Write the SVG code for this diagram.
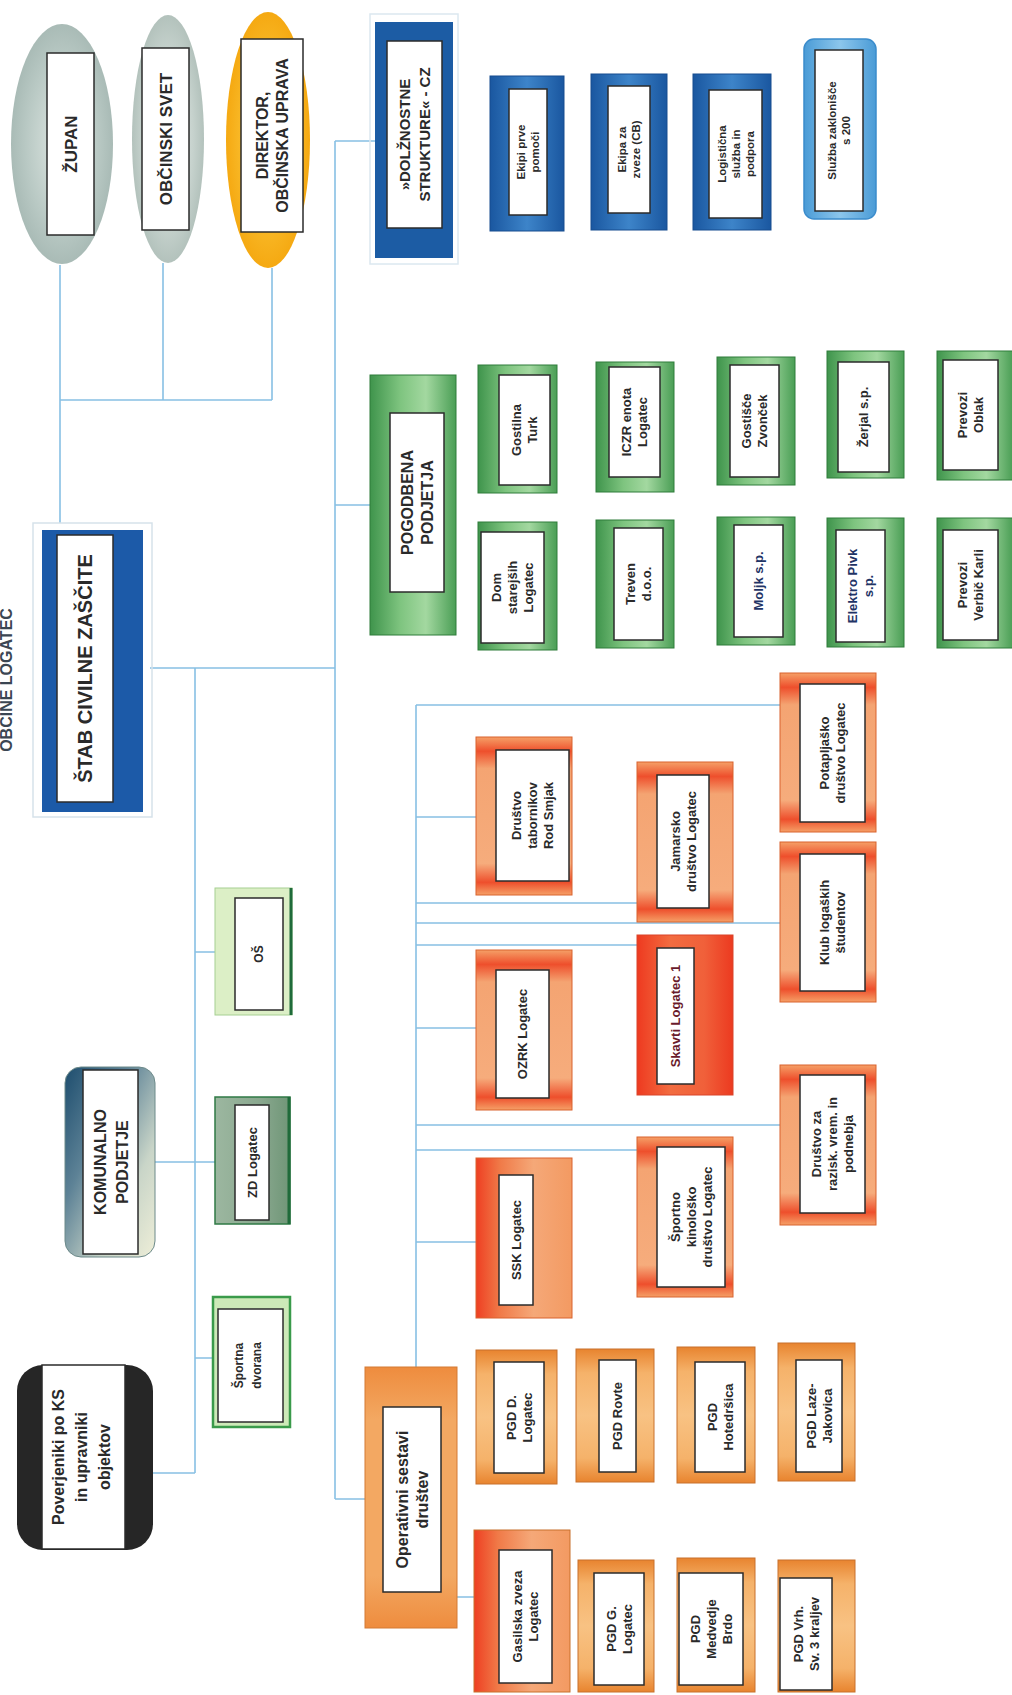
<svg xmlns="http://www.w3.org/2000/svg" width="1012" height="1695" viewBox="0 0 1012 1695">
<defs>
<style>
.ln{stroke:#88c0e4;stroke-width:1.6;fill:none}
.in{fill:#fff;stroke:#2b2b2b;stroke-width:1.5}
.t{font-family:"Liberation Sans",Arial,sans-serif;font-weight:bold;fill:#2a2a2a;text-anchor:middle}
.f11{font-size:11.5px}.f12{font-size:12px}.f13{font-size:13px}.f15{font-size:15px}.f16{font-size:16px}.f17{font-size:17px}.f20{font-size:20px}
.blue{fill:url(#gBlue);stroke:#174d8f;stroke-width:1}
.grn{fill:url(#gGreen);stroke:#2f7d3a;stroke-width:1}
.orA{fill:url(#gOrgA);stroke:#d9622e;stroke-width:1}
.orB{fill:url(#gOrgB);stroke:#d9622e;stroke-width:1}
.orC{fill:url(#gOrgC);stroke:#d9452a;stroke-width:1}
.tan{fill:url(#gTan);stroke:#c8702c;stroke-width:1}
.navy{fill:#1f3466}
</style>
<radialGradient id="gGray" cx="0.5" cy="0.5" r="0.5"><stop offset="0" stop-color="#dfe7e3"/><stop offset="0.7" stop-color="#b9c9c4"/><stop offset="1" stop-color="#a9bbb6"/></radialGradient>
<radialGradient id="gGray2" cx="0.5" cy="0.5" r="0.5"><stop offset="0" stop-color="#e6ece9"/><stop offset="0.7" stop-color="#c6d2cd"/><stop offset="1" stop-color="#b3c2bc"/></radialGradient>
<radialGradient id="gGold" cx="0.5" cy="0.5" r="0.5"><stop offset="0" stop-color="#fde08a"/><stop offset="0.6" stop-color="#f9bb2a"/><stop offset="1" stop-color="#f5a912"/></radialGradient>
<linearGradient id="gBlue" x1="0" y1="0" x2="1" y2="0"><stop offset="0" stop-color="#1a57a0"/><stop offset="0.5" stop-color="#3d84c9"/><stop offset="1" stop-color="#1a57a0"/></linearGradient>
<linearGradient id="gBlueL" x1="0" y1="0" x2="1" y2="0"><stop offset="0" stop-color="#4a9bd6"/><stop offset="0.5" stop-color="#8cc6ec"/><stop offset="1" stop-color="#4a9bd6"/></linearGradient>
<linearGradient id="gGreen" x1="0" y1="0" x2="1" y2="0"><stop offset="0" stop-color="#3f944c"/><stop offset="0.35" stop-color="#7ec47f"/><stop offset="0.65" stop-color="#a3d8a0"/><stop offset="1" stop-color="#4a9e55"/></linearGradient>
<linearGradient id="gOrgA" x1="0" y1="0" x2="0" y2="1"><stop offset="0" stop-color="#f5a067"/><stop offset="0.09" stop-color="#ee4f2c"/><stop offset="0.2" stop-color="#f4a472"/><stop offset="0.8" stop-color="#f6ac7c"/><stop offset="0.92" stop-color="#ee4f2c"/><stop offset="1" stop-color="#f5a067"/></linearGradient>
<linearGradient id="gOrgB" x1="0" y1="0" x2="1" y2="0"><stop offset="0" stop-color="#ee3f22"/><stop offset="0.25" stop-color="#f07a48"/><stop offset="0.6" stop-color="#f5a878"/><stop offset="1" stop-color="#f39a62"/></linearGradient>
<linearGradient id="gOrgC" x1="0" y1="0" x2="1" y2="0"><stop offset="0" stop-color="#ee3a20"/><stop offset="0.35" stop-color="#f26c40"/><stop offset="0.7" stop-color="#f0603a"/><stop offset="1" stop-color="#ec3a20"/></linearGradient>
<linearGradient id="gTan" x1="0" y1="0" x2="0" y2="1"><stop offset="0" stop-color="#e8842f"/><stop offset="0.18" stop-color="#f5b26a"/><stop offset="0.5" stop-color="#f8c283"/><stop offset="0.82" stop-color="#f5b26a"/><stop offset="1" stop-color="#e8842f"/></linearGradient>
<linearGradient id="gOper" x1="0" y1="0" x2="0" y2="1"><stop offset="0" stop-color="#ee8c3e"/><stop offset="0.2" stop-color="#f3a862"/><stop offset="0.8" stop-color="#f3a862"/><stop offset="1" stop-color="#ee8c3e"/></linearGradient>
<linearGradient id="gKom" x1="0" y1="0" x2="1" y2="1"><stop offset="0" stop-color="#1d4d6e"/><stop offset="0.35" stop-color="#5d8296"/><stop offset="0.7" stop-color="#c9d5c8"/><stop offset="1" stop-color="#eeeed8"/></linearGradient>
<linearGradient id="gZD" x1="0" y1="0" x2="1" y2="0"><stop offset="0" stop-color="#9cb7a0"/><stop offset="0.6" stop-color="#8aa88f"/><stop offset="1" stop-color="#6f9677"/></linearGradient>
</defs>
<rect width="1012" height="1695" fill="#fff"/>

<g id="connectors">
<path class="ln" d="M60,265V523M163,263V400M272,268V400M60,400H272"/>
<path class="ln" d="M335,141V1499M335,141H375M335,505H370M150,668H335M335,1499H365M457,1597H474"/>
<path class="ln" d="M195,668V1473M195,952H215M155,1162H215M195,1358H213M153,1473H195"/>
<path class="ln" d="M416,705V1367M416,705H780M416,817H476M416,903H637M416,923H780M416,945H637M416,1028H476M416,1125H780M416,1150H637M416,1242H476"/>
</g>

<text class="t f16" transform="translate(12 680) rotate(-90)" style="fill:#3b4652">OBČINE LOGATEC</text>

<g id="zupan"><ellipse cx="62" cy="144" rx="51" ry="120" fill="url(#gGray)"/><rect class="in" x="47" y="53" width="47" height="182"/>
<text class="t f17" transform="translate(70.5 144) rotate(-90)"><tspan x="0" y="6.1">ŽUPAN</tspan></text></g>
<g id="svet"><ellipse cx="168" cy="139" rx="36" ry="124" fill="url(#gGray2)"/><rect class="in" x="142" y="48" width="47" height="182"/>
<text class="t f17" transform="translate(165.5 139) rotate(-90)"><tspan x="0" y="6.1">OBČINSKI SVET</tspan></text></g>
<g id="direktor"><ellipse cx="268" cy="140" rx="42" ry="128" fill="url(#gGold)"/><rect class="in" x="241" y="39" width="62" height="193"/>
<text class="t f16" transform="translate(272 135.5) rotate(-90)"><tspan x="0" y="-4.2">DIREKTOR,</tspan><tspan x="0" y="15.8">OBČINSKA UPRAVA</tspan></text></g>

<g id="dolznostne"><rect x="370" y="14" width="88" height="250" fill="none" stroke="#dbe8f0" stroke-width="1.5"/><rect x="375" y="22" width="78" height="236" fill="#1c5ca4"/><rect class="in" x="387" y="41" width="55" height="187"/>
<text class="t f15" transform="translate(414.5 134.5) rotate(-90)"><tspan x="0" y="-4.6">»DOLŽNOSTNE</tspan><tspan x="0" y="15.4">STRUKTURE« - CZ</tspan></text></g>

<g id="ekipi_prve"><rect class="blue" x="490" y="76" width="74" height="155"/><rect class="in" x="509" y="89" width="38" height="126"/>
<text class="t f11" transform="translate(528 152) rotate(-90)"><tspan x="0" y="-2.9">Ekipi prve</tspan><tspan x="0" y="11.1">pomoči</tspan></text></g>
<g id="ekipa_zveze"><rect class="blue" x="591" y="74" width="76" height="156"/><rect class="in" x="608" y="86" width="42" height="127"/>
<text class="t f11" transform="translate(629 149.5) rotate(-90)"><tspan x="0" y="-2.9">Ekipa za</tspan><tspan x="0" y="11.1">zveze (CB)</tspan></text></g>
<g id="logistika"><rect class="blue" x="693" y="74" width="78" height="156"/><rect class="in" x="709" y="90" width="53" height="128"/>
<text class="t f11" transform="translate(735.5 154) rotate(-90)"><tspan x="0" y="-9.9">Logistična</tspan><tspan x="0" y="4.1">služba in</tspan><tspan x="0" y="18.1">podpora</tspan></text></g>
<g id="sluzba"><rect x="804" y="39" width="72" height="180" rx="10" fill="url(#gBlueL)" stroke="#3b8ccc" stroke-width="1.5"/><rect class="in" x="815" y="50" width="48" height="161"/>
<text class="t f11" transform="translate(839 130.5) rotate(-90)"><tspan x="0" y="-2.9">Služba zaklonišče</tspan><tspan x="0" y="11.1">s 200</tspan></text></g>

<g id="stab"><rect x="33" y="523" width="119" height="294" fill="none" stroke="#d6e2ea" stroke-width="1.5"/><rect x="42" y="530" width="101" height="282" fill="#1c5aa8"/><rect class="in" x="57" y="535" width="56" height="267"/>
<text class="t f20" transform="translate(85 668.5) rotate(-90)"><tspan x="0" y="7.2">ŠTAB CIVILNE ZAŠČITE</tspan></text></g>

<g id="pogodbena"><rect class="grn" x="370" y="375" width="86" height="260"/><rect class="in" x="390" y="413" width="54" height="179"/>
<text class="t f16" transform="translate(417 502.5) rotate(-90)"><tspan x="0" y="-4.2">POGODBENA</tspan><tspan x="0" y="15.8">PODJETJA</tspan></text></g>
<g id="gostilna_turk"><rect class="grn" x="478" y="365" width="79" height="128"/><rect class="in" x="499" y="375" width="51" height="110"/>
<text class="t f13" transform="translate(524.5 430) rotate(-90)"><tspan x="0" y="-3.3">Gostilna</tspan><tspan x="0" y="12.7">Turk</tspan></text></g>
<g id="dom_starejsih"><rect class="grn" x="478" y="522" width="79" height="128"/><rect class="in" x="481" y="532" width="63" height="111"/>
<text class="t f13" transform="translate(512.5 587.5) rotate(-90)"><tspan x="0" y="-11.3">Dom</tspan><tspan x="0" y="4.7">starejših</tspan><tspan x="0" y="20.7">Logatec</tspan></text></g>
<g id="iczr"><rect class="grn" x="596" y="362" width="78" height="130"/><rect class="in" x="609" y="367" width="51" height="110"/>
<text class="t f13" transform="translate(634.5 422) rotate(-90)"><tspan x="0" y="-3.3">ICZR enota</tspan><tspan x="0" y="12.7">Logatec</tspan></text></g>
<g id="treven"><rect class="grn" x="596" y="520" width="78" height="128"/><rect class="in" x="614" y="528" width="49" height="112"/>
<text class="t f13" transform="translate(638.5 584) rotate(-90)"><tspan x="0" y="-3.3">Treven</tspan><tspan x="0" y="12.7">d.o.o.</tspan></text></g>
<g id="gostisce"><rect class="grn" x="717" y="357" width="78" height="128"/><rect class="in" x="730" y="365" width="49" height="112"/>
<text class="t f13" transform="translate(754.5 421) rotate(-90)"><tspan x="0" y="-3.3">Gostišče</tspan><tspan x="0" y="12.7">Zvonček</tspan></text></g>
<g id="moljk"><rect class="grn" x="717" y="517" width="78" height="128"/><rect class="in" x="734" y="525" width="49" height="112"/>
<text class="t f13 navy" transform="translate(758.5 581) rotate(-90)"><tspan x="0" y="4.7">Moljk s.p.</tspan></text></g>
<g id="zerjal"><rect class="grn" x="827" y="351" width="77" height="127"/><rect class="in" x="838" y="362" width="51" height="110"/>
<text class="t f13" transform="translate(863.5 417) rotate(-90)"><tspan x="0" y="4.7">Žerjal s.p.</tspan></text></g>
<g id="elektro_pivk"><rect class="grn" x="827" y="518" width="77" height="129"/><rect class="in" x="836" y="530" width="49" height="112"/>
<text class="t f13 navy" transform="translate(860.5 586) rotate(-90)"><tspan x="0" y="-3.3">Elektro Pivk</tspan><tspan x="0" y="12.7">s.p.</tspan></text></g>
<g id="prevozi_oblak"><rect class="grn" x="937" y="351" width="76" height="129"/><rect class="in" x="943" y="360" width="55" height="110"/>
<text class="t f13" transform="translate(970.5 415) rotate(-90)"><tspan x="0" y="-3.3">Prevozi</tspan><tspan x="0" y="12.7">Oblak</tspan></text></g>
<g id="prevozi_verbic"><rect class="grn" x="937" y="518" width="76" height="130"/><rect class="in" x="943" y="530" width="55" height="110"/>
<text class="t f13" transform="translate(970.5 585) rotate(-90)"><tspan x="0" y="-3.3">Prevozi</tspan><tspan x="0" y="12.7">Verbič Karli</tspan></text></g>

<g id="tabor"><rect class="orA" x="476" y="737" width="96" height="158"/><rect class="in" x="496" y="750" width="73" height="131"/>
<text class="t f13" transform="translate(532.5 815.5) rotate(-90)"><tspan x="0" y="-11.3">Društvo</tspan><tspan x="0" y="4.7">tabornikov</tspan><tspan x="0" y="20.7">Rod Smjak</tspan></text></g>
<g id="jamarsko"><rect class="orA" x="637" y="762" width="96" height="160"/><rect class="in" x="657" y="775" width="52" height="133"/>
<text class="t f13" transform="translate(683 841.5) rotate(-90)"><tspan x="0" y="-3.3">Jamarsko</tspan><tspan x="0" y="12.7">društvo Logatec</tspan></text></g>
<g id="potapljasko"><rect class="orA" x="780" y="673" width="96" height="159"/><rect class="in" x="800" y="684" width="65" height="138"/>
<text class="t f13" transform="translate(832.5 753) rotate(-90)"><tspan x="0" y="-3.3">Potapljaško</tspan><tspan x="0" y="12.7">društvo Logatec</tspan></text></g>
<g id="klub"><rect class="orA" x="780" y="842" width="96" height="160"/><rect class="in" x="800" y="854" width="65" height="137"/>
<text class="t f13" transform="translate(832.5 922.5) rotate(-90)"><tspan x="0" y="-3.3">Klub logaških</tspan><tspan x="0" y="12.7">študentov</tspan></text></g>
<g id="ozrk"><rect class="orA" x="476" y="950" width="96" height="160"/><rect class="in" x="496" y="970" width="53" height="128"/>
<text class="t f13" transform="translate(522.5 1034) rotate(-90)"><tspan x="0" y="4.7">OZRK Logatec</tspan></text></g>
<g id="skavti"><rect class="orC" x="637" y="935" width="96" height="160"/><rect class="in" x="657" y="948" width="37" height="136"/>
<text class="t f13" style="fill:#6a1b2c" transform="translate(675.5 1016) rotate(-90)"><tspan x="0" y="4.7">Skavti Logatec 1</tspan></text></g>
<g id="razisk"><rect class="orA" x="780" y="1065" width="96" height="160"/><rect class="in" x="800" y="1075" width="65" height="138"/>
<text class="t f13" transform="translate(832.5 1144) rotate(-90)"><tspan x="0" y="-11.3">Društvo za</tspan><tspan x="0" y="4.7">razisk. vrem. in</tspan><tspan x="0" y="20.7">podnebja</tspan></text></g>
<g id="ssk"><rect class="orB" x="476" y="1158" width="96" height="160"/><rect class="in" x="499" y="1175" width="34" height="130"/>
<text class="t f13" transform="translate(516 1240) rotate(-90)"><tspan x="0" y="4.7">SSK Logatec</tspan></text></g>
<g id="kinolosko"><rect class="orA" x="637" y="1137" width="96" height="160"/><rect class="in" x="657" y="1147" width="68" height="140"/>
<text class="t f13" transform="translate(691 1217) rotate(-90)"><tspan x="0" y="-11.3">Športno</tspan><tspan x="0" y="4.7">kinološko</tspan><tspan x="0" y="20.7">društvo Logatec</tspan></text></g>

<g id="operativni"><rect x="365" y="1367" width="92" height="261" fill="url(#gOper)" stroke="#d47a34" stroke-width="1"/><rect class="in" x="383" y="1407" width="58" height="185"/>
<text class="t f16" transform="translate(412 1499.5) rotate(-90)"><tspan x="0" y="-4.2">Operativni sestavi</tspan><tspan x="0" y="15.8">društev</tspan></text></g>
<g id="pgd_d"><rect class="tan" x="476" y="1350" width="81" height="134"/><rect class="in" x="494" y="1362" width="50" height="111"/>
<text class="t f13" transform="translate(519 1417.5) rotate(-90)"><tspan x="0" y="-3.3">PGD D.</tspan><tspan x="0" y="12.7">Logatec</tspan></text></g>
<g id="pgd_rovte"><rect class="tan" x="576" y="1349" width="78" height="133"/><rect class="in" x="599" y="1360" width="37" height="112"/>
<text class="t f13" transform="translate(617.5 1416) rotate(-90)"><tspan x="0" y="4.7">PGD Rovte</tspan></text></g>
<g id="pgd_hotedrsica"><rect class="tan" x="677" y="1347" width="78" height="136"/><rect class="in" x="695" y="1362" width="50" height="110"/>
<text class="t f13" transform="translate(720 1417) rotate(-90)"><tspan x="0" y="-3.3">PGD</tspan><tspan x="0" y="12.7">Hotedršica</tspan></text></g>
<g id="pgd_laze"><rect class="tan" x="778" y="1343" width="77" height="138"/><rect class="in" x="796" y="1360" width="46" height="112"/>
<text class="t f13" transform="translate(819 1416) rotate(-90)"><tspan x="0" y="-3.3">PGD Laze-</tspan><tspan x="0" y="12.7">Jakovica</tspan></text></g>
<g id="gasilska"><rect class="tan" x="474" y="1530" width="96" height="162" style="fill:url(#gOrgB)"/><rect class="in" x="499" y="1550" width="53" height="133"/>
<text class="t f13" transform="translate(525.5 1616.5) rotate(-90)"><tspan x="0" y="-3.3">Gasilska zveza</tspan><tspan x="0" y="12.7">Logatec</tspan></text></g>
<g id="pgd_g"><rect class="tan" x="578" y="1560" width="76" height="132"/><rect class="in" x="594" y="1573" width="50" height="112"/>
<text class="t f13" transform="translate(619 1629) rotate(-90)"><tspan x="0" y="-3.3">PGD G.</tspan><tspan x="0" y="12.7">Logatec</tspan></text></g>
<g id="pgd_medvedje"><rect class="tan" x="677" y="1558" width="78" height="134"/><rect class="in" x="679" y="1573" width="64" height="112"/>
<text class="t f13" transform="translate(711 1629) rotate(-90)"><tspan x="0" y="-11.3">PGD</tspan><tspan x="0" y="4.7">Medvedje</tspan><tspan x="0" y="20.7">Brdo</tspan></text></g>
<g id="pgd_vrh"><rect class="tan" x="778" y="1560" width="77" height="132"/><rect class="in" x="780" y="1578" width="52" height="112"/>
<text class="t f13" transform="translate(806 1634) rotate(-90)"><tspan x="0" y="-3.3">PGD Vrh.</tspan><tspan x="0" y="12.7">Sv. 3 kraljev</tspan></text></g>

<g id="os"><rect x="215" y="888" width="77" height="127" fill="#dcefc6" stroke="#a6cf92" stroke-width="1"/><line x1="291" y1="888" x2="291" y2="1015" stroke="#1f6b3a" stroke-width="3"/><rect class="in" x="235" y="898" width="48" height="112"/>
<text class="t f12" transform="translate(259 954) rotate(-90)"><tspan x="0" y="4.3">OŠ</tspan></text></g>
<g id="zd"><rect x="215" y="1097" width="75" height="127" fill="url(#gZD)" stroke="#2f7a45" stroke-width="1.5"/><line x1="289" y1="1097" x2="289" y2="1224" stroke="#1f6b3a" stroke-width="3"/><rect class="in" x="235" y="1105" width="34" height="115"/>
<text class="t f13" transform="translate(252 1162.5) rotate(-90)"><tspan x="0" y="4.7">ZD Logatec</tspan></text></g>
<g id="sportna"><rect x="213" y="1297" width="77" height="130" fill="#cde9b8" stroke="#3a9a4a" stroke-width="2.5"/><rect class="in" x="218" y="1309" width="65" height="113"/>
<text class="t f12" transform="translate(248 1365.5) rotate(-90)"><tspan x="0" y="-4.7">Športna</tspan><tspan x="0" y="13.3">dvorana</tspan></text></g>
<g id="komunalno"><rect x="65" y="1067" width="90" height="190" rx="16" fill="url(#gKom)" stroke="#6d8a8a" stroke-width="1"/><rect class="in" x="83" y="1070" width="55" height="184"/>
<text class="t f16" transform="translate(111 1162) rotate(-90)"><tspan x="0" y="-5.2">KOMUNALNO</tspan><tspan x="0" y="16.8">PODJETJE</tspan></text></g>
<g id="poverjeniki"><rect x="17" y="1365" width="136" height="185" rx="26" fill="#262626"/><rect class="in" x="42" y="1365" width="83" height="184"/>
<text class="t f16" transform="translate(81 1457) rotate(-90)"><tspan x="0" y="-17.2">Poverjeniki po KS</tspan><tspan x="0" y="5.8">in upravniki</tspan><tspan x="0" y="28.8">objektov</tspan></text></g>
</svg>
